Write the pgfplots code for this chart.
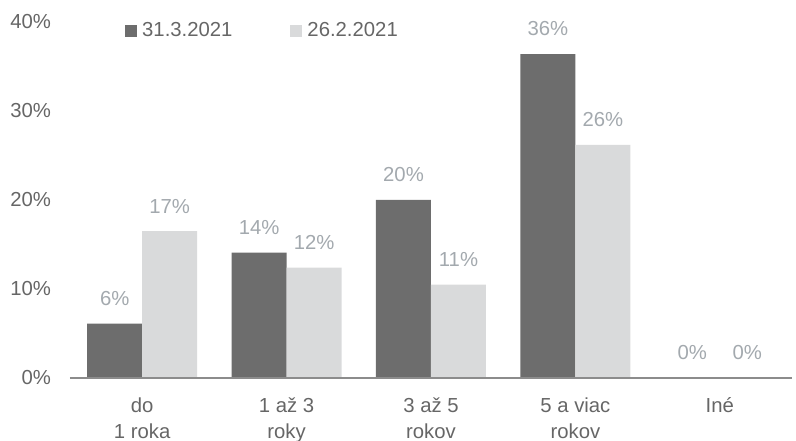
\documentclass[border=0pt]{standalone}
\usepackage{pgfplots}
\pgfplotsset{compat=1.18}
\usepackage{fontspec}
\setmainfont{Liberation Sans}
\definecolor{darkbar}{HTML}{6D6D6D}
\definecolor{lightbar}{HTML}{D9DADB}
\definecolor{labgray}{HTML}{A3A9AE}
\definecolor{tickgray}{HTML}{666666}
\definecolor{axisgray}{HTML}{8C8C8C}
\newcommand{\chfont}{\fontsize{20.3}{25.5}\selectfont}
\begin{document}
\begin{tikzpicture}
\chfont
\useasboundingbox (-70pt,-63pt) rectangle (726pt,378pt);
\begin{axis}[
  at={(0pt,0pt)}, anchor=south west,
  scale only axis,
  width=722pt, height=356pt,
  xmin=-0.5, xmax=4.5, ymin=0, ymax=40,
  ybar, bar width=55pt,
  /pgf/number format/assume math mode=true,
  axis x line*=bottom,
  axis y line*=left,
  x axis line style={draw=none},
  y axis line style={draw=none},
  ytick={0,10,20,30,40},
  yticklabels={0\%,10\%,20\%,30\%,40\%},
  xtick={0,1,2,3,4},
  xticklabels={do\\1 roka, 1 až 3\\roky, 3 až 5\\rokov, 5 a viac\\rokov, Iné},
  xticklabel style={align=center, text=tickgray, font=\chfont, anchor=north, yshift=-13pt},
  yticklabel style={text=tickgray, font=\chfont, anchor=east, xshift=-12pt},
  major tick length=0pt,
  tick style={draw=none},
  nodes near coords={\pgfmathprintnumber[fixed,precision=0]{\pgfplotspointmeta}\%},
  every node near coord/.append style={text=labgray, font=\chfont, anchor=south, yshift=11pt},
  legend style={draw=none, fill=none, at={(0.072,0.975)}, anchor=west, legend columns=2,
    font=\chfont, text=tickgray,
    /tikz/every even column/.append style={column sep=56pt}},
  legend image code/.code={\fill[#1] (0pt,-6pt) rectangle (12pt,6pt);},
  clip=false,
]
\addplot[fill=darkbar, draw=none, bar shift=-27.5pt] coordinates {(0,6.1) (1,14.1) (2,20.0) (3,36.4) (4,0)};
\addplot[fill=lightbar, draw=none, bar shift=27.5pt] coordinates {(0,16.5) (1,12.4) (2,10.5) (3,26.2) (4,0)};
\legend{\hspace{3pt}31.3.2021, \hspace{3pt}26.2.2021}
\draw[axisgray, line width=1.5pt] (axis cs:-0.5,0) -- (axis cs:4.5,0);
\end{axis}
\end{tikzpicture}
\end{document}
